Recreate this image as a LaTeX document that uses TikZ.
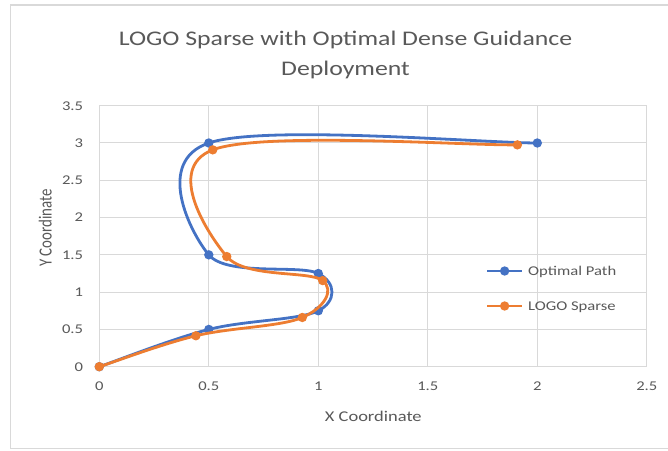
\documentclass[tikz,border=0pt]{standalone}
\usepackage{fontspec}
\setmainfont{Carlito}
\usetikzlibrary{calc}
\definecolor{optblue}{HTML}{4472C4}
\definecolor{logoorange}{HTML}{ED7D31}
\definecolor{gridgray}{HTML}{D9D9D9}
\definecolor{textgray}{HTML}{595959}
% horizontally widened text, as set in the chart
\newcommand\widetext[1]{\scalebox{1.24}[1]{#1}}
\begin{document}
\begin{tikzpicture}[x=1pt,y=1pt,
  gridline/.style={gridgray, line width=1pt},
  ticklabel/.style={text=textgray, inner sep=0pt, font=\fontsize{13.4}{14}\selectfont},
  axistitle/.style={text=textgray, inner sep=0pt, font=\fontsize{14.9}{16}\selectfont},
  titletext/.style={text=textgray, inner sep=0pt, font=\fontsize{20.8}{22}\selectfont},
  series/.style={line width=2.8pt, line cap=round, line join=round},
  marker/.style={fill=#1, draw=none}]
\useasboundingbox (0,0) rectangle (668,450);
\fill[white] (0,0) rectangle (668,450);
% chart frame
\draw[gridgray, line width=1.2pt] (672,1.5) -- (10.5,1.5) -- (10.5,445) -- (672,445);

% title
\node[titletext, anchor=base] (title1) at (345.5,404) {\widetext{LOGO Sparse with Optimal Dense Guidance}};
\node[titletext, anchor=base] (title2) at (345.5,374) {\widetext{Deployment}};

% axis titles
\node[axistitle, anchor=base] (xtitle) at (373.3,29) {\widetext{X Coordinate}};
\node[axistitle, rotate=90, anchor=base] (ytitle) at (51.5,222) {\scalebox{1}[1.24]{Y Coordinate}};

\begin{scope}[shift={(99.3,83.3)}, x=219pt, y=74.57pt]
  % grid
  \foreach \gx in {0,0.5,1,1.5,2,2.5}
    \draw[gridline] (\gx,0) -- (\gx,3.5);
  \foreach \gy in {0,0.5,1,1.5,2,2.5,3,3.5}
    \draw[gridline] (0,\gy) -- (2.5,\gy);
  % tick labels
  \foreach \gx in {0,0.5,1,1.5,2,2.5}
    \node[ticklabel, anchor=base] at ([yshift=-23.5pt]\gx,0) {\widetext{\gx}};
  \foreach \gy in {0,0.5,1,1.5,2,2.5,3,3.5}
    \node[ticklabel, anchor=base east] at ([xshift=-16pt,yshift=-4.3pt]0,\gy) {\widetext{\gy}};

  % optimal path
  \coordinate (b0) at (0,0);
  \coordinate (b1) at (0.5,0.5);
  \coordinate (b2) at (1,0.75);
  \coordinate (b3) at (1,1.25);
  \coordinate (b4) at (0.5,1.5);
  \coordinate (b5) at (0.5,3);
  \coordinate (b6) at (2,3);
  % LOGO sparse
  \coordinate (o0) at (0,0);
  \coordinate (o1) at (0.441,0.415);
  \coordinate (o2) at (0.927,0.660);
  \coordinate (o3) at (1.020,1.155);
  \coordinate (o4) at (0.582,1.477);
  \coordinate (o5) at (0.518,2.908);
  \coordinate (o6) at (1.909,2.975);

  % smoothed lines (Catmull-Rom segments)
  \draw[series, optblue] (b0)
    \foreach \p/\a/\b/\n in {0/0/1/2,0/1/2/3,1/2/3/4,2/3/4/5,3/4/5/6,4/5/6/6} {
      .. controls ($(b\a)+1/6*(b\b)-1/6*(b\p)$) and ($(b\b)-1/6*(b\n)+1/6*(b\a)$) .. (b\b)
    };
  \foreach \i in {0,...,6}
    \fill[marker=optblue] (b\i) circle (4.7pt);

  \draw[series, logoorange] (o0)
    \foreach \p/\a/\b/\n in {0/0/1/2,0/1/2/3,1/2/3/4,2/3/4/5,3/4/5/6,4/5/6/6} {
      .. controls ($(o\a)+1/6*(o\b)-1/6*(o\p)$) and ($(o\b)-1/6*(o\n)+1/6*(o\a)$) .. (o\b)
    };
  \foreach \i in {0,...,6}
    \fill[marker=logoorange] (o\i) circle (4.7pt);
\end{scope}

% legend
\coordinate (l1a) at (487.3,179);
\coordinate (l1b) at (522,179);
\coordinate (l2a) at (487.3,144);
\coordinate (l2b) at (522,144);
\draw[series, optblue, line cap=butt] (l1a) -- (l1b);
\fill[marker=optblue] ($(l1a)!0.5!(l1b)$) circle (4.7pt);
\node[ticklabel, anchor=base west] (leg1) at (528,174.5) {\widetext{Optimal Path}};
\draw[series, logoorange, line cap=butt] (l2a) -- (l2b);
\fill[marker=logoorange] ($(l2a)!0.5!(l2b)$) circle (4.7pt);
\node[ticklabel, anchor=base west] (leg2) at (528,139.5) {\widetext{LOGO Sparse}};
\end{tikzpicture}
\end{document}
